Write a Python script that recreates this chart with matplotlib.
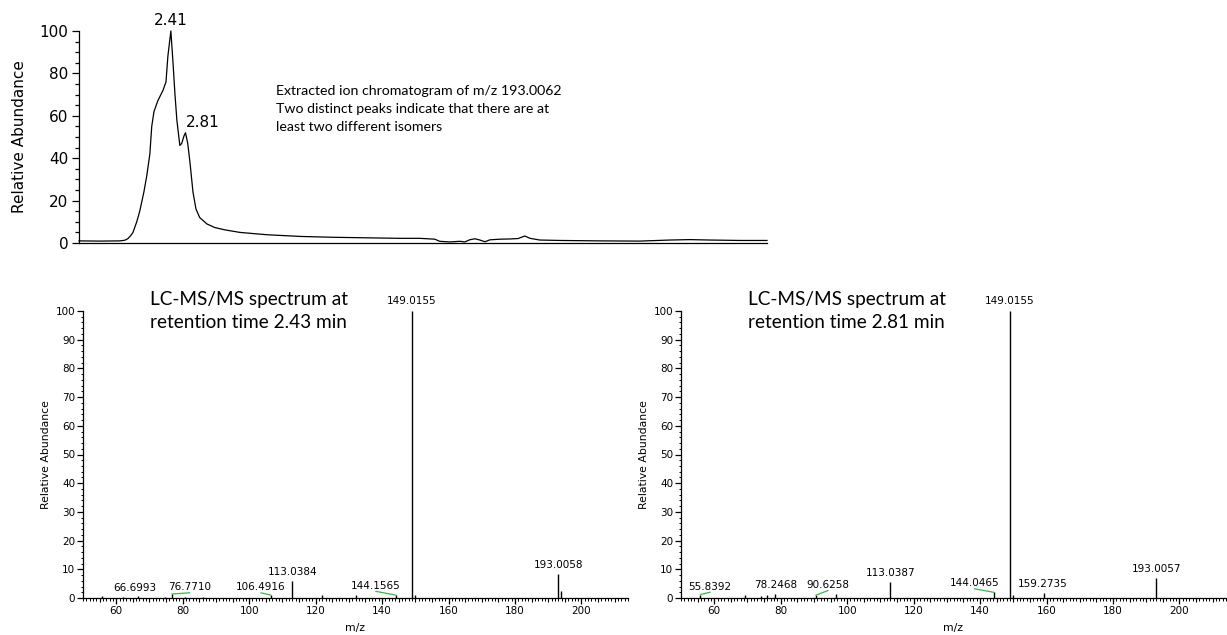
import matplotlib
matplotlib.use('Agg')
import matplotlib.pyplot as plt
from matplotlib.ticker import MultipleLocator, FixedLocator

# ---------------- data ----------------
# extracted ion chromatogram (time in min, relative abundance)
eic_time = [-0.04, 0.52, 1.05, 1.18, 1.26, 1.34, 1.40, 1.50, 1.58, 1.69, 1.77, 1.85,
            1.90, 1.96, 2.06, 2.20, 2.28, 2.33, 2.41, 2.46, 2.52, 2.57, 2.65, 2.70,
            2.76, 2.80, 2.86, 2.92, 3.00, 3.08, 3.18, 3.37, 3.58, 3.85, 4.25, 4.97,
            5.86, 6.73, 8.52, 9.05, 9.45, 9.58, 9.85, 10.12, 10.25, 10.38, 10.52,
            10.65, 10.79, 10.92, 11.19, 11.45, 11.67, 11.85, 11.99, 12.25, 12.79,
            13.85, 14.92, 15.72, 16.25, 16.79, 17.59, 18.31]
eic_int = [1.0, 0.9, 1.0, 1.3, 2.0, 3.5, 5.0, 10.0, 15.0, 24.0, 32.0, 42.0,
           55.0, 62.0, 67.0, 72.0, 76.0, 88.0, 100.0, 87.0, 70.0, 58.0, 46.0, 47.0,
           50.5, 52.0, 47.0, 38.0, 24.0, 16.0, 12.0, 9.0, 7.3, 6.2, 5.0, 3.9,
           3.1, 2.7, 2.2, 2.2, 1.8, 0.8, 0.5, 0.8, 0.5, 1.5, 2.0,
           1.4, 0.6, 1.5, 1.8, 1.9, 2.1, 3.3, 2.2, 1.4, 1.2,
           1.0, 0.9, 1.4, 1.6, 1.4, 1.2, 1.2]
eic_peak_times = [2.41, 2.80]
eic_peak_labels = ['2.41', '2.81']

# MS/MS spectrum at 2.43 min
msa_mz = [55.6, 62.0, 66.6993, 74.8, 76.7710, 80.6, 86.0, 106.4916, 113.0384,
          121.9, 132.2, 144.1565, 149.0155, 149.9, 193.0058, 193.7]
msa_int = [0.6, 0.4, 0.6, 0.5, 1.4, 0.5, 0.4, 1.0, 6.0,
           0.9, 1.0, 1.0, 100.0, 1.0, 8.3, 2.5]
msa_labels = ['66.6993', '76.7710', '106.4916', '113.0384', '144.1565',
              '149.0155', '193.0058']

# MS/MS spectrum at 2.81 min
msb_mz = [55.8392, 69.4, 74.2, 75.9, 78.2468, 90.6258, 96.7, 113.0387,
          144.0465, 149.0155, 149.9, 159.2735, 193.0057]
msb_int = [1.2, 1.2, 0.8, 0.9, 1.5, 1.0, 1.5, 5.7,
           2.0, 100.0, 1.0, 1.6, 7.0]
msb_labels = ['55.8392', '78.2468', '90.6258', '113.0387', '144.0465',
              '149.0155', '159.2735', '193.0057']

# ---------------- layout ----------------
W, H = 1227, 635
# label placement relative to peak: (dx in m/z, dy in %, leader line)
msa_place = {'66.6993': (-1.0, 1.2, False), '76.7710': (5.3, 0.6, True),
             '106.4916': (-2.9, 1.0, True), '113.0384': (0, 1.4, False),
             '144.1565': (-6.0, 1.5, True), '149.0155': (0, 1.6, False),
             '193.0058': (0, 1.4, False)}
msb_place = {'55.8392': (2.9, 1.0, True), '78.2468': (0.2, 1.3, False),
             '90.6258': (3.6, 1.8, True), '113.0387': (0, 1.3, False),
             '144.0465': (-5.7, 1.4, True), '149.0155': (0, 1.6, False),
             '159.2735': (-0.3, 1.7, False), '193.0057': (0, 1.4, False)}
GREEN = '#3cb44b'
TICKFONT = 'DejaVu Sans'
NOTEFONT = 'Lato'

fig = plt.figure(figsize=(W / 100, H / 100), dpi=100)


def px_axes(l, t, r, b):
    return fig.add_axes([l / W, 1 - b / H, (r - l) / W, (b - t) / H])


# ---------------- chromatogram ----------------
ax0 = px_axes(79, 31, 767, 243)
ax0.plot(eic_time, eic_int, color='black', lw=0.9, clip_on=False)
ax0.set_xlim(-0.04, 18.31)
ax0.set_ylim(0, 100)
for s in ('top', 'right'):
    ax0.spines[s].set_visible(False)
ax0.spines['left'].set_linewidth(0.9)
ax0.spines['bottom'].set_linewidth(0.9)
ax0.set_xticks([])
ax0.yaxis.set_major_locator(MultipleLocator(20))
ax0.yaxis.set_minor_locator(MultipleLocator(5))
ax0.tick_params(axis='y', which='major', length=5, width=0.9, pad=2.5,
                labelsize=11)
ax0.tick_params(axis='y', which='minor', length=3, width=0.9)
for lab in ax0.get_yticklabels():
    lab.set_fontfamily(TICKFONT)
ax0.text((20 - 79) / 688, 0.5, 'Relative Abundance', transform=ax0.transAxes,
         rotation=90, ha='center', va='center', fontsize=11, family=TICKFONT)
for t, lab in zip(eic_peak_times, eic_peak_labels):
    idx = min(range(len(eic_time)), key=lambda i: abs(eic_time[i] - t))
    h = eic_int[idx]
    ha = 'center' if lab == eic_peak_labels[0] else 'left'
    ax0.annotate(lab, (t, h), xytext=(0, 2), textcoords='offset points',
                 ha=ha, va='bottom', fontsize=11, family=TICKFONT,
                 annotation_clip=False)
ax0.text((276 - 79) / 688, (243 - 109) / 212,
         'Extracted ion chromatogram of m/z 193.0062\n'
         'Two distinct peaks indicate that there are at\n'
         'least two different isomers',
         transform=ax0.transAxes, ha='left', va='center', fontsize=10.2,
         family=NOTEFONT, linespacing=1.6)


# ---------------- spectra ----------------
def spectrum(ax, mz, inten, labels, place, note):
    ax.vlines(mz, 0, inten, color='black', lw=1.0, clip_on=False)
    ax.set_xlim(50, 214)
    ax.set_ylim(0, 100)
    for s in ('top', 'right'):
        ax.spines[s].set_visible(False)
    ax.spines['left'].set_linewidth(0.9)
    ax.spines['bottom'].set_linewidth(0.9)
    ax.xaxis.set_major_locator(FixedLocator(list(range(60, 201, 20))))
    ax.xaxis.set_minor_locator(MultipleLocator(1))
    ax.yaxis.set_major_locator(MultipleLocator(10))
    ax.yaxis.set_minor_locator(MultipleLocator(2))
    ax.tick_params(axis='both', which='major', length=4.5, width=0.9,
                   labelsize=7.5, pad=1.2)
    ax.tick_params(axis='both', which='minor', length=1.8, width=0.7)
    for lab in ax.get_xticklabels() + ax.get_yticklabels():
        lab.set_fontfamily(TICKFONT)
    sec = ax.secondary_xaxis('bottom')
    sec.set_xticks([m for m in range(55, 214, 5) if m % 20 != 0])
    sec.tick_params(axis='x', length=3.2, width=0.8, labelbottom=False)
    sec.spines['bottom'].set_visible(False)
    ax.text(-0.067, 0.5, 'Relative Abundance', transform=ax.transAxes,
            rotation=90, ha='center', va='center', fontsize=7.8,
            family=TICKFONT)
    ax.text(0.5, -0.1045, 'm/z', transform=ax.transAxes, ha='center',
            va='center', fontsize=7.8, family=TICKFONT)
    for lab in labels:
        val = float(lab)
        i = min(range(len(mz)), key=lambda k: abs(mz[k] - val))
        x, h = mz[i], inten[i]
        dx, dy, leader = place[lab]
        if leader:
            ax.plot([x, x + dx], [h, h + dy - 0.2], color=GREEN, lw=0.9,
                    clip_on=False)
        ax.text(x + dx, h + dy, lab, ha='center', va='bottom', fontsize=7.5,
                family=TICKFONT, clip_on=False)
    ax.text(0.123, (598 - 311) / 287, note, transform=ax.transAxes,
            ha='left', va='center', fontsize=13.7, family=NOTEFONT,
            linespacing=1.42)


ax1 = px_axes(83, 311, 628, 598)
spectrum(ax1, msa_mz, msa_int, msa_labels, msa_place,
         'LC-MS/MS spectrum at\nretention time 2.43 min')
ax2 = px_axes(681, 311, 1226, 598)
spectrum(ax2, msb_mz, msb_int, msb_labels, msb_place,
         'LC-MS/MS spectrum at\nretention time 2.81 min')

fig.savefig('out.png', dpi=100)
